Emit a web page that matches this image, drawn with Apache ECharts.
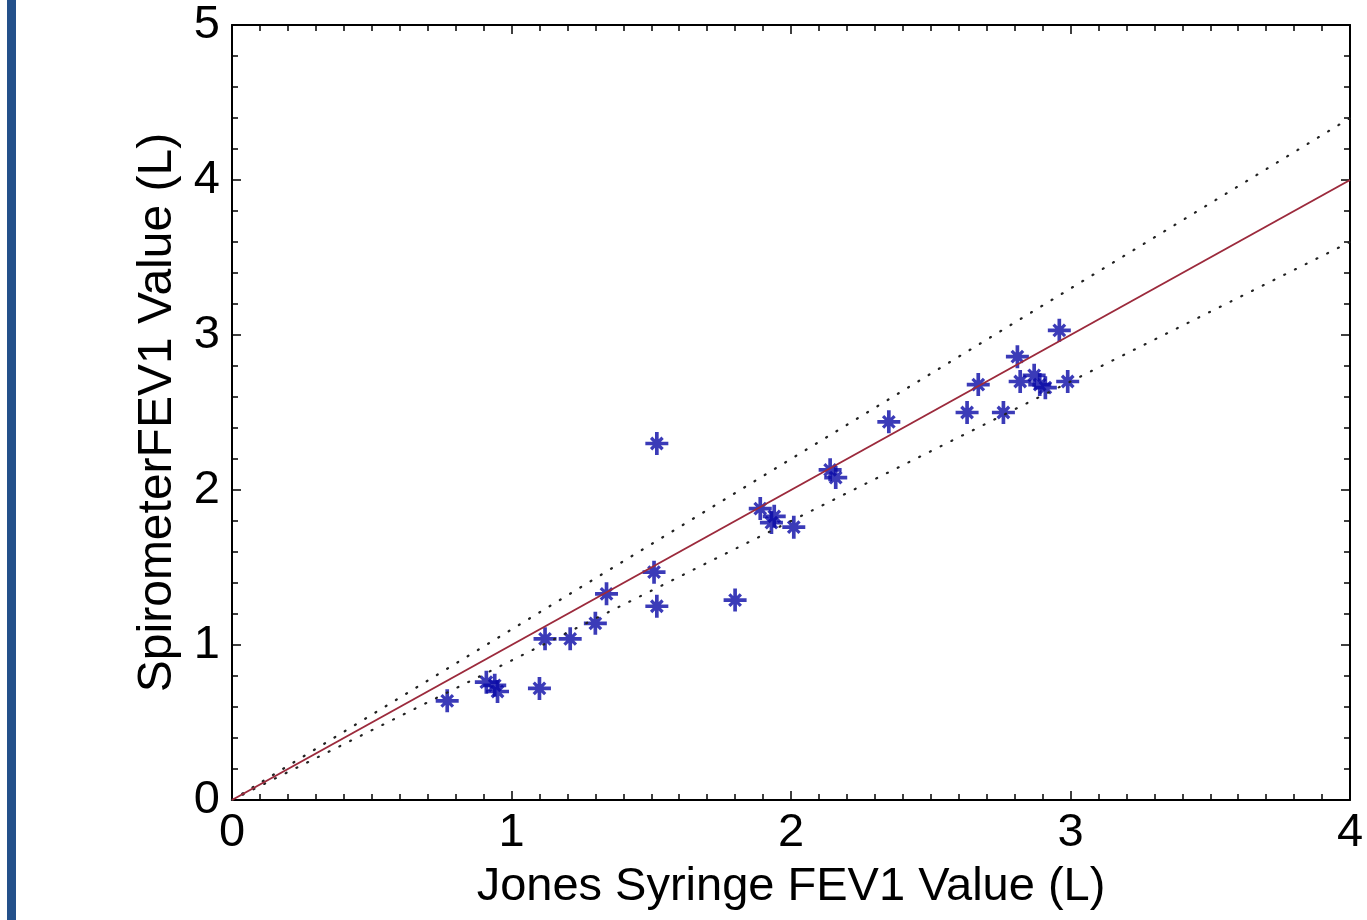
<!DOCTYPE html>
<html lang="en">
  <head>
    <meta charset="UTF-8" />
    <title>FEV1 comparison</title>
    <script src="https://cdn.jsdelivr.net/npm/echarts@6/dist/echarts.min.js"></script>
    <style>
      * {
        margin: 0;
        padding: 0;
      }
      body {
        background: #fff;
      }
    </style>
  </head>
  <body>
    <div id="main" style="width: 1367px; height: 920px"></div>
    <script>
      // measured pairs: Jones syringe (x) vs spirometer (y), litres
      var syringe = [0.77, 0.91, 0.94, 0.95, 1.1, 1.12, 1.21, 1.3, 1.34, 1.51, 1.52, 1.52, 1.8, 1.89, 1.94, 1.93, 2.01, 2.14, 2.16, 2.35, 2.63, 2.67, 2.76, 2.81, 2.82, 2.87, 2.89, 2.91, 2.96, 2.99];
      var spirometer = [0.64, 0.76, 0.74, 0.7, 0.72, 1.04, 1.04, 1.14, 1.33, 1.47, 1.25, 2.3, 1.29, 1.88, 1.83, 1.79, 1.76, 2.13, 2.08, 2.44, 2.5, 2.68, 2.5, 2.86, 2.7, 2.74, 2.68, 2.66, 3.03, 2.7];
      // identity line and +/-10% limits
      var identityLine = [[0, 0], [4, 4]];
      var upperLimit = [[0, 0], [4, 4.4]];
      var lowerLimit = [[0, 0], [4, 3.6]];
      var xTicks = [0, 1, 2, 3, 4];
      var yTicks = [0, 1, 2, 3, 4, 5];

      var points = syringe.map(function (x, i) {
        return [x, spirometer[i]];
      });

      // matlab style '*' marker
      var star =
        'path://M42 0 L58 0 L58 100 L42 100 Z M0 42 L100 42 L100 58 L0 58 Z ' +
        'M30 20 L80 70 L70 80 L20 30 Z M70 20 L80 30 L30 80 L20 70 Z ' +
        'M34 34 L66 34 L66 66 L34 66 Z';

      var font = 'Liberation Sans, Arial, Helvetica, sans-serif';
      var myChart = echarts.init(document.getElementById('main'));

      function frameAxis(pos, split, ticks, showLabel) {
        return {
          type: 'value',
          position: pos,
          min: ticks[0],
          max: ticks[ticks.length - 1],
          interval: 1,
          splitLine: { show: false },
          axisLine: { show: true, onZero: false, lineStyle: { color: '#000', width: 2 } },
          axisTick: { show: true, inside: true, length: 9, lineStyle: { color: '#000', width: 1.5 } },
          minorTick: { show: true, splitNumber: split, length: 6, lineStyle: { color: '#000', width: 1.5 } },
          axisLabel: {
            show: showLabel,
            color: '#000',
            fontFamily: font,
            fontSize: 47,
            margin: 12
          }
        };
      }

      var xBottom = frameAxis('bottom', 10, xTicks, true);
      xBottom.name = 'Jones Syringe FEV1 Value (L)';
      xBottom.nameLocation = 'middle';
      xBottom.nameGap = 64;
      xBottom.nameTextStyle = { color: '#000', fontFamily: font, fontSize: 47 };
      xBottom.axisLabel.margin = 10;

      var yLeft = frameAxis('left', 5, yTicks, true);
      yLeft.name = 'SpirometerFEV1 Value (L)';
      yLeft.nameLocation = 'middle';
      yLeft.nameGap = 50;
      yLeft.nameTextStyle = { color: '#000', fontFamily: font, fontSize: 48 };

      myChart.setOption({
        animation: false,
        backgroundColor: '#fff',
        grid: { left: 232, right: 17, top: 25, bottom: 120, outerBoundsMode: 'none' },
        graphic: [
          {
            type: 'rect',
            left: 7,
            top: 0,
            shape: { width: 9, height: 920 },
            style: { fill: '#23508a' }
          }
        ],
        xAxis: [xBottom, frameAxis('top', 10, xTicks, false)],
        yAxis: [yLeft, frameAxis('right', 5, yTicks, false)],
        series: [
          {
            type: 'line',
            data: upperLimit,
            symbol: 'none',
            silent: true,
            lineStyle: { color: '#222', width: 2.2, type: [1, 11], cap: 'round' }
          },
          {
            type: 'line',
            data: lowerLimit,
            symbol: 'none',
            silent: true,
            lineStyle: { color: '#222', width: 2.2, type: [1, 11], cap: 'round' }
          },
          {
            type: 'line',
            data: identityLine,
            symbol: 'none',
            silent: true,
            lineStyle: { color: '#9c2a3c', width: 2 }
          },
          {
            type: 'scatter',
            data: points,
            symbol: star,
            symbolSize: 23,
            itemStyle: { color: '#0a0aa6' }
          }
        ]
      });
    </script>
  </body>
</html>
